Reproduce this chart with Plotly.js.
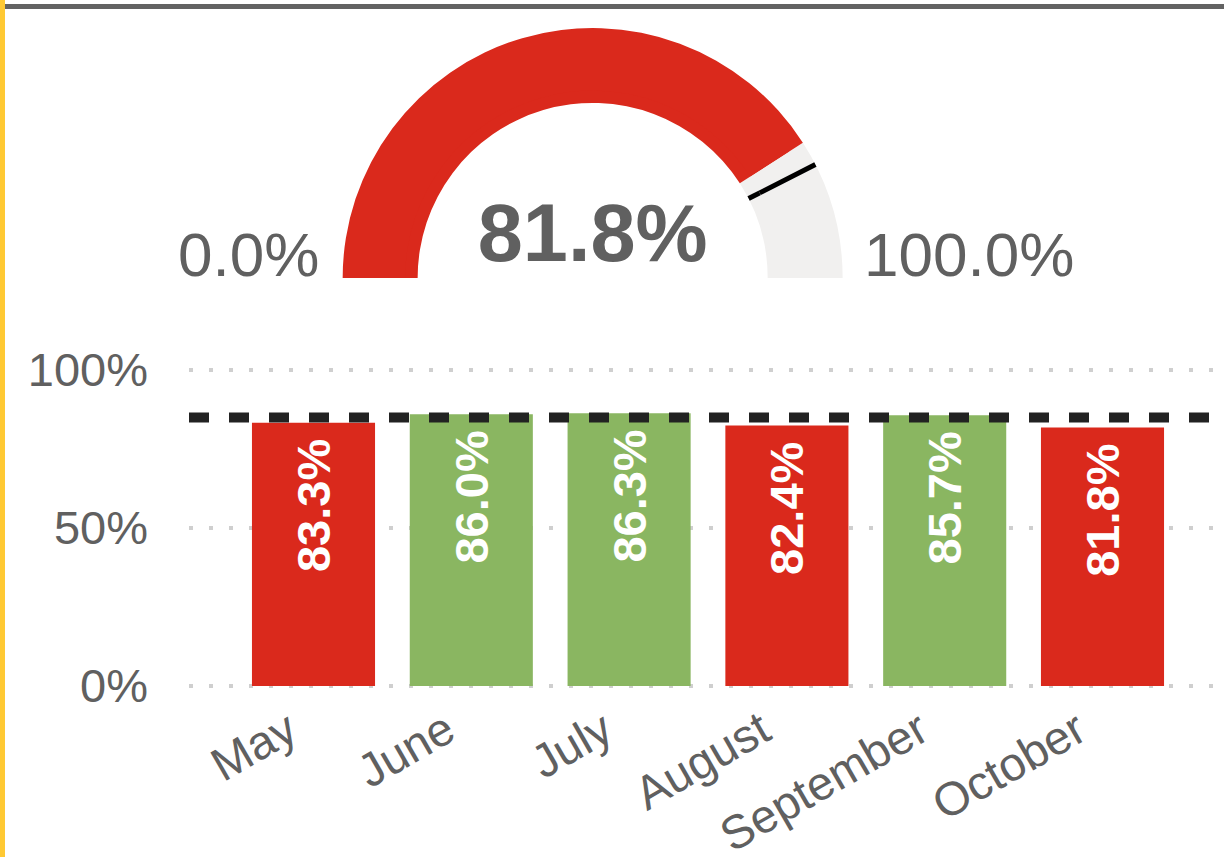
<!DOCTYPE html>
<html>
<head>
<meta charset="utf-8">
<script src="https://cdn.plot.ly/plotly-3.0.1.min.js"></script>
<style>
  html, body { margin: 0; padding: 0; background: #ffffff; overflow: hidden; }
  #wrap { position: relative; width: 1224px; height: 857px; }
  #chart { position: absolute; left: 0; top: 0; width: 1224px; height: 857px; }
  #leftbar { position: absolute; left: 0; top: 0; width: 5px; height: 857px; background: #FFC933; }
  #topbar { position: absolute; left: 5px; top: 4px; width: 1219px; height: 5px; background: #636363; }
</style>
</head>
<body>
<div id="wrap">
  <div id="chart"></div>
  <div id="leftbar"></div>
  <div id="topbar"></div>
</div>
<script>
// ---- data ----
const months = ["May", "June", "July", "August", "September", "October"];
const rates = [83.3, 86.0, 86.3, 82.4, 85.7, 81.8];
const currentRate = 81.8;
const target = 85;
const gaugeMin = 0;
const gaugeMax = 100;
const yTickVals = [0, 50, 100];
const yTickText = ["0%", "50%", "100%"];

// ---- styles ----
const RED = "#DA291C";
const GREEN = "#8AB661";
const GAUGE_BG = "#F1F0EF";
const TEXT = "#606060";
const FONT = "Liberation Sans, Arial, sans-serif";

const barColors = rates.map(v => v >= target ? GREEN : RED);

const gaugeCommon = {
  shape: "angular",
  axis: { range: [gaugeMin, gaugeMax], visible: false },
  bar: { color: RED, thickness: 1, line: { width: 0 } },
  bgcolor: "rgba(0,0,0,0)",
  borderwidth: 0,
  steps: [{ range: [currentRate, gaugeMax], color: GAUGE_BG, thickness: 1, line: { width: 0 } }],
  threshold: { line: { color: "#000000", width: 5 }, thickness: 1, value: target }
};

const gaugeInner = {
  type: "indicator",
  mode: "gauge",
  value: currentRate,
  domain: { x: [0.10, 0.68], y: [0.6756, 0.9479] },
  gauge: gaugeCommon
};

const gaugeOuter = {
  type: "indicator",
  mode: "gauge+number",
  value: currentRate,
  number: { suffix: "%", valueformat: ".1f", font: { family: FONT, size: 81, color: TEXT, weight: "bold" } },
  domain: { x: [0.10, 0.68], y: [0.6756, 0.9673] },
  gauge: gaugeCommon
};

const bars = {
  type: "bar",
  x: months,
  y: rates,
  marker: { color: barColors, line: { width: 0 } },
  texttemplate: "%{y:.1f}%\u00a0",
  textposition: "inside",
  insidetextanchor: "end",
  textangle: -90,
  textfont: { family: FONT, size: 47, color: "#ffffff", weight: "bold" },
  constraintext: "none",
  hoverinfo: "skip",
  cliponaxis: false
};

const layout = {
  width: 1224,
  height: 857,
  margin: { l: 189, r: 0, t: 0, b: 0 },
  paper_bgcolor: "#ffffff",
  plot_bgcolor: "#ffffff",
  showlegend: false,
  bargap: 0.22,
  font: { family: FONT, color: TEXT },
  xaxis: {
    domain: [0, 1],
    range: [-0.789, 5.770],
    showgrid: false,
    zeroline: false,
    showline: false,
    ticks: "",
    tickangle: -30,
    tickfont: { family: FONT, size: 47, color: TEXT },
    ticklabelstandoff: 4,
    ticklabelshift: -25
  },
  yaxis: {
    domain: [0.19585, 0.57195],
    range: [-1, 101],
    tickvals: yTickVals,
    ticktext: yTickText,
    showgrid: true,
    gridcolor: "#CFCFCF",
    gridwidth: 3.5,
    griddash: "3.5px,16.5px",
    zeroline: false,
    showline: false,
    ticks: "",
    tickfont: { family: FONT, size: 47, color: TEXT },
    ticklabelstandoff: 40
  },
  shapes: [
    {
      type: "line", xref: "paper", yref: "y",
      x0: 0, x1: 1, y0: target, y1: target,
      line: { color: "#222222", width: 10, dash: "20px,20px" },
      layer: "above"
    }
  ],
  annotations: [
    {
      text: gaugeMin.toFixed(1) + "%", xref: "paper", yref: "paper",
      x: 0.1275, y: 0.6604, xanchor: "right", yanchor: "bottom",
      showarrow: false, font: { family: FONT, size: 62, color: TEXT }
    },
    {
      text: gaugeMax.toFixed(1) + "%", xref: "paper", yref: "paper",
      x: 0.6505, y: 0.6604, xanchor: "left", yanchor: "bottom",
      showarrow: false, font: { family: FONT, size: 62, color: TEXT }
    }
  ]
};

Plotly.newPlot("chart", [gaugeInner, gaugeOuter, bars], layout, { staticPlot: true, displayModeBar: false });
</script>
</body>
</html>
